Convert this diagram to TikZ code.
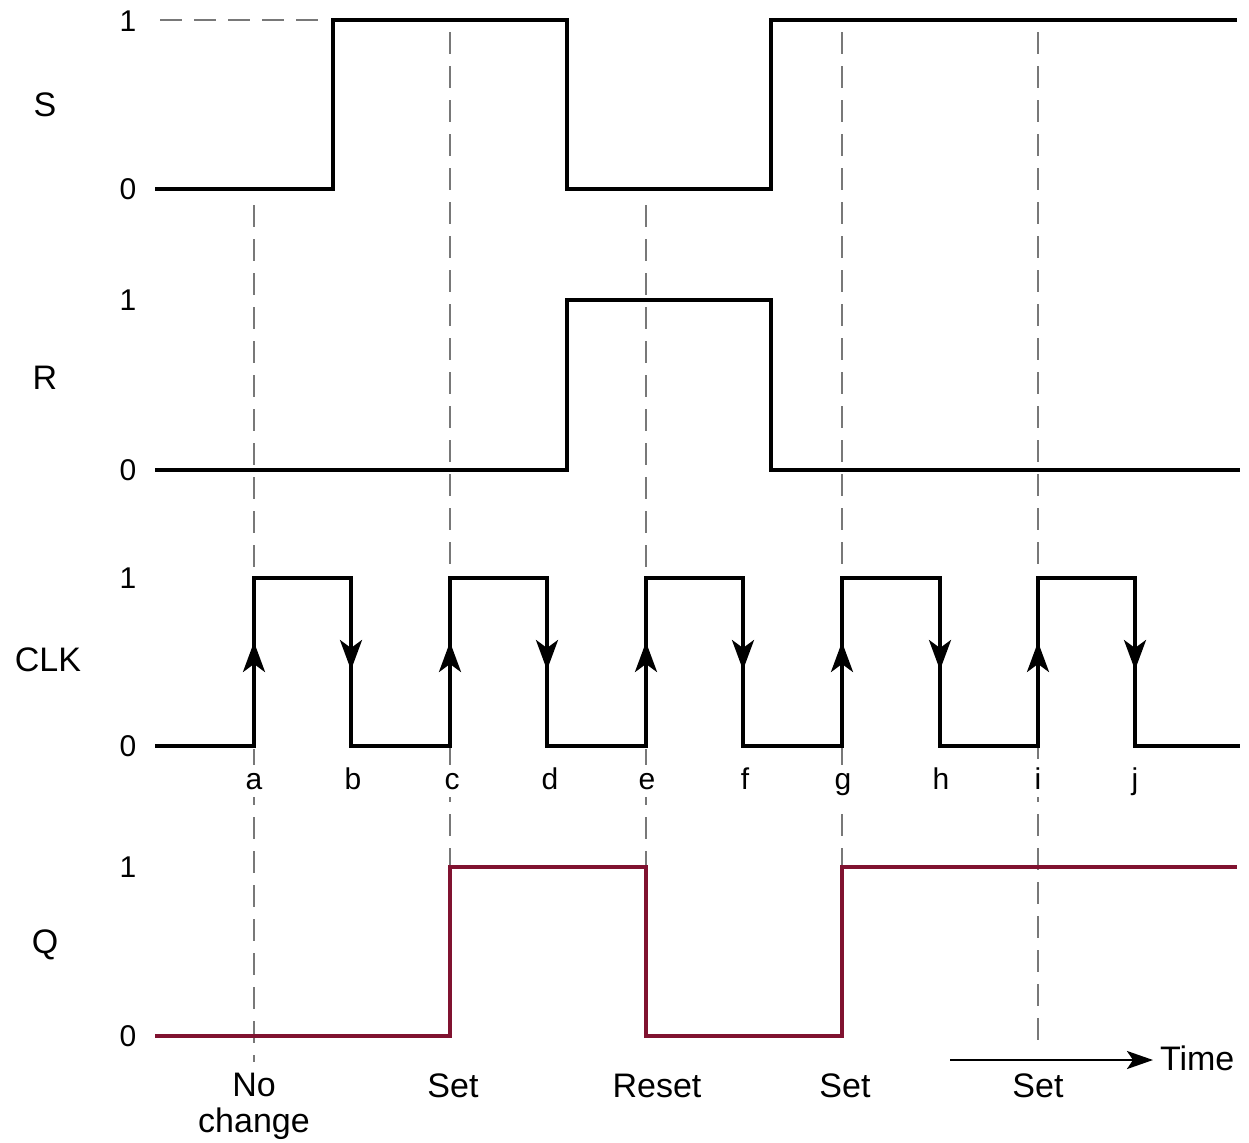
\documentclass[tikz,border=0pt]{standalone}
\usepackage{fontspec}
\setmainfont{Liberation Sans}
\usetikzlibrary{arrows.meta}
\definecolor{qred}{RGB}{128,18,48}
\definecolor{dashgray}{RGB}{120,120,120}
\tikzset{
  wave/.style={line width=2pt, line join=miter},
  qwave/.style={line width=2pt, draw=qred, line join=miter},
  guide/.style={draw=dashgray, line width=0.9pt, dash pattern=on 11pt off 6pt},
  lvl/.style={font=\fontsize{15}{17}\selectfont, anchor=center},
  sig/.style={font=\fontsize{17}{19}\selectfont, anchor=center},
  edge/.style={font=\fontsize{15}{17}\selectfont, anchor=base, fill=white, inner sep=4pt},
  lab/.style={font=\fontsize{17}{19}\selectfont, anchor=base},
  clktip/.style={-{Stealth[length=15pt,width=11pt,inset=4pt]}, line width=1.8pt},
}
\begin{document}
\begin{tikzpicture}[x=0.5pt,y=-0.5pt]
\useasboundingbox (0,0) rectangle (1249,1142);

% guide lines
\draw[guide] (160,20) -- (330,20);
\draw[guide] (254,205) -- (254,1062);
\draw[guide] (450,32) -- (450,866);
\draw[guide] (646,205) -- (646,866);
\draw[guide] (842,32) -- (842,866);
\draw[guide] (1038,32) -- (1038,1052);

% signal names
\node[sig] (nS) at (45,105) {S};
\node[sig] (nR) at (45,378) {R};
\node[sig] (nCLK) at (48,660) {CLK};
\node[sig] (nQ) at (45,945) {Q};

% level labels
\node[lvl] (s1) at (128,21) {1};
\node[lvl] (s0) at (128,189) {0};
\node[lvl] (r1) at (128,300) {1};
\node[lvl] (r0) at (128,470) {0};
\node[lvl] (c1) at (128,578) {1};
\node[lvl] (c0) at (128,746) {0};
\node[lvl] (q1) at (128,867) {1};
\node[lvl] (q0) at (128,1036) {0};

% S waveform
\draw[wave] (155,189) -- (333,189) -- (333,20) -- (567,20) -- (567,189) -- (771,189) -- (771,20) -- (1237,20);
% R waveform
\draw[wave] (155,470) -- (567,470) -- (567,300) -- (771,300) -- (771,470) -- (1240,470);
% CLK waveform
\draw[wave] (155,746)
  -- (254,746) -- (254,578) -- (351,578) -- (351,746)
  -- (450,746) -- (450,578) -- (547,578) -- (547,746)
  -- (646,746) -- (646,578) -- (743,578) -- (743,746)
  -- (842,746) -- (842,578) -- (940,578) -- (940,746)
  -- (1038,746) -- (1038,578) -- (1135,578) -- (1135,746)
  -- (1240,746);
% CLK edge arrows
\foreach \x in {254,450,646,842,1038} {
  \draw[clktip] (\x,700) -- (\x,642);
}
\foreach \x in {351,547,743,940,1135} {
  \draw[clktip] (\x,600) -- (\x,670);
}
% edge letters
\node[edge] (ea) at (254,789) {a};
\node[edge] (eb) at (353,789) {b};
\node[edge] (ec) at (452,789) {c};
\node[edge] (ed) at (550,789) {d};
\node[edge] (ee) at (647,789) {e};
\node[edge] (ef) at (745,789) {f};
\node[edge] (eg) at (843,789) {g};
\node[edge] (eh) at (941,789) {h};
\node[edge] (ei) at (1038,789) {i};
\node[edge] (ej) at (1135,789) {j};

% Q waveform
\draw[qwave] (155,1036) -- (450,1036) -- (450,867) -- (646,867) -- (646,1036) -- (842,1036) -- (842,867) -- (1237,867);

% bottom labels
\node[lab] (l1) at (254,1096) {No};
\node[lab] (l1b) at (254,1132) {change};
\node[lab] (l2) at (453,1097) {Set};
\node[lab] (l3) at (657,1097) {Reset};
\node[lab] (l4) at (845,1097) {Set};
\node[lab] (l5) at (1038,1097) {Set};

% time arrow
\coordinate (t0) at (950,1060);
\node[font=\fontsize{17}{19}\selectfont, anchor=west] (time) at (1153,1058) {Time};
\draw[line width=1.3pt, -{Stealth[length=13pt,width=9pt,inset=3pt]}] (t0) -- (t0 -| time.west);
\end{tikzpicture}
\end{document}
